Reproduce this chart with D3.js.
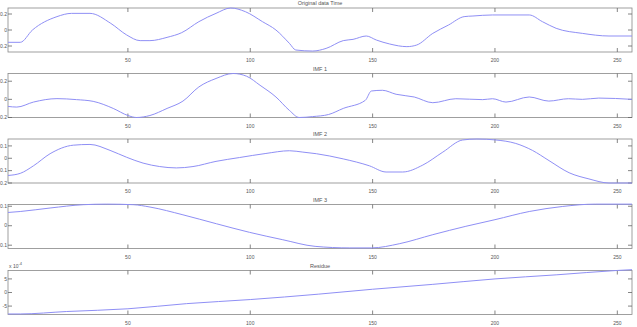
<!DOCTYPE html>
<html>
<head>
<meta charset="utf-8">
<script src="https://cdn.jsdelivr.net/npm/d3@7"></script>
<style>
  body { margin: 0; background: #fff; }
  svg { display: block; }
  text { font-family: "Liberation Sans", Arial, sans-serif; fill: #555; }
</style>
</head>
<body>
<svg id="chart" width="637" height="327"></svg>
<script>
// panel titles
var titles = ["Original data Time", "IMF 1", "IMF 2", "IMF 3", "Residue"];

// sample positions (x) and values
var origX = [1, 6, 11, 21, 27, 34.5, 43, 49.5, 55, 59, 66, 72, 79, 86, 92, 98, 105, 110.5, 116, 118.6, 125.5, 131, 138, 142, 147.4, 151.5, 157, 164, 168, 174.6, 181, 187.4, 191, 199, 214, 219.4, 225, 235.7, 246.6, 256];
var origY = [-0.154, -0.154, 0, 0.167, 0.208, 0.208, 0.083, -0.062, -0.133, -0.133, -0.092, -0.033, 0.104, 0.208, 0.275, 0.229, 0.104, 0, -0.167, -0.25, -0.263, -0.23, -0.133, -0.117, -0.075, -0.125, -0.175, -0.208, -0.188, -0.042, 0.062, 0.167, 0.175, 0.188, 0.188, 0.104, 0.021, -0.042, -0.075, -0.075];

var imf1X = [1, 4.6, 11.4, 21, 29, 35.8, 44, 50, 53.5, 59, 66, 72.5, 79, 86, 93, 98.5, 104, 110.5, 116, 120, 125.5, 132, 138, 147, 149.5, 154, 159.6, 167, 174.6, 184, 195, 199, 204.5, 214, 222, 230, 235.7, 242.4, 256];
var imf1Y = [-0.078, -0.085, -0.03, 0.008, -0.003, -0.022, -0.1, -0.178, -0.2, -0.178, -0.1, -0.019, 0.137, 0.23, 0.285, 0.255, 0.155, 0.026, -0.122, -0.2, -0.19, -0.167, -0.1, -0.011, 0.092, 0.1, 0.056, 0.026, -0.037, 0.007, -0.003, 0.007, -0.03, 0.026, -0.019, 0.007, 0, 0.014, 0];

var imf2X = [1, 6, 11.4, 18.2, 27.7, 34.5, 42.7, 49.5, 56.2, 63, 69.8, 76.6, 86, 95.6, 106.4, 116, 121.5, 127, 138, 148.7, 155.5, 162.3, 170.5, 178.7, 186.8, 192.6, 200.4, 208.5, 215.3, 222.1, 230.3, 238.4, 246.6, 256];
var imf2Y = [-0.139, -0.122, -0.061, 0.037, 0.106, 0.112, 0.064, 0.008, -0.039, -0.067, -0.078, -0.067, -0.025, 0.006, 0.039, 0.061, 0.05, 0.037, -0.005, -0.061, -0.111, -0.111, -0.055, 0.05, 0.148, 0.156, 0.148, 0.12, 0.064, -0.019, -0.117, -0.167, -0.2, -0.2];

var imf3X = [1, 6, 18.2, 31.8, 41.3, 52.2, 59, 72.5, 86.2, 99.7, 113.3, 126.5, 140.7, 149.5, 161.1, 174.6, 188.1, 200, 214, 227.7, 241.1, 256];
var imf3Y = [0.068, 0.073, 0.091, 0.108, 0.111, 0.108, 0.096, 0.056, 0.01, -0.034, -0.072, -0.106, -0.114, -0.114, -0.092, -0.046, -0.003, 0.031, 0.073, 0.099, 0.111, 0.111];

var resX = [1, 6, 25, 50, 74, 100, 128, 150, 174.6, 200, 225, 249.6, 256];
var resY = [-7.9, -7.9, -7.0, -6.0, -4.1, -2.6, -0.6, 1.2, 3.0, 5.0, 6.5, 8.1, 8.4]; // x 10^-4

var xTicks = [50, 100, 150, 200, 250];
var yTicks = [[-0.2, 0, 0.2], [-0.2, 0, 0.2], [-0.2, -0.1, 0, 0.1], [-0.1, 0, 0.1], [-5, 0, 5]];
var yDomains = [[-0.275, 0.275], [-0.2, 0.285], [-0.2, 0.156], [-0.117, 0.109], [-8.1, 8.1]];

var series = [[origX, origY], [imf1X, imf1Y], [imf2X, imf2Y], [imf3X, imf3Y], [resX, resY]];

var svg = d3.select("#chart");
var left = 8, right = 632, panelH = 44;
var tops = [8, 73.5, 139, 204.5, 270.5];

var x = d3.scaleLinear().domain([1, 256]).range([left, right]);
var fmt = function(v) { return v === 0 ? "0" : String(v); };

series.forEach(function(s, i) {
  var top = tops[i];
  var y = d3.scaleLinear().domain(yDomains[i]).range([top + panelH, top]);
  var g = svg.append("g");

  var pts = s[0].map(function(d, j) { return [d, s[1][j]]; });

  // box
  g.append("rect")
    .attr("x", left).attr("y", top)
    .attr("width", right - left).attr("height", panelH)
    .attr("fill", "none").attr("stroke", "#888").attr("stroke-width", 0.8);

  // x ticks, inside on bottom and top
  xTicks.forEach(function(t) {
    g.append("line").attr("x1", x(t)).attr("x2", x(t))
      .attr("y1", top + panelH).attr("y2", top + panelH - 4)
      .attr("stroke", "#666").attr("stroke-width", 0.8);
    g.append("line").attr("x1", x(t)).attr("x2", x(t))
      .attr("y1", top).attr("y2", top + 4)
      .attr("stroke", "#666").attr("stroke-width", 0.8);
    g.append("text").attr("x", x(t)).attr("y", top + panelH + 10)
      .attr("text-anchor", "middle").attr("font-size", 5).text(t);
  });

  // y ticks, inside on left and right
  yTicks[i].forEach(function(t) {
    g.append("line").attr("x1", left).attr("x2", left + 4)
      .attr("y1", y(t)).attr("y2", y(t))
      .attr("stroke", "#666").attr("stroke-width", 0.8);
    g.append("line").attr("x1", right).attr("x2", right - 4)
      .attr("y1", y(t)).attr("y2", y(t))
      .attr("stroke", "#666").attr("stroke-width", 0.8);
    g.append("text").attr("x", left - 1).attr("y", y(t) + 1.7)
      .attr("text-anchor", "end").attr("font-size", 5).text(fmt(t));
  });

  g.append("path")
    .datum(pts)
    .attr("fill", "none")
    .attr("stroke", "#8f8ff5")
    .attr("stroke-width", 1)
    .attr("d", d3.line()
      .x(function(d) { return x(d[0]); })
      .y(function(d) { return y(d[1]); })
      .curve(d3.curveMonotoneX));

  g.append("text").attr("x", 320).attr("y", top - 3)
    .attr("text-anchor", "middle").attr("font-size", 5.5).text(titles[i]);
});

// exponent label for residue
var ex = svg.append("text").attr("x", 9).attr("y", tops[4] - 3).attr("font-size", 5);
ex.append("tspan").text("x 10");
ex.append("tspan").attr("dy", -2.5).attr("font-size", 4).text("-4");
</script>
</body>
</html>
